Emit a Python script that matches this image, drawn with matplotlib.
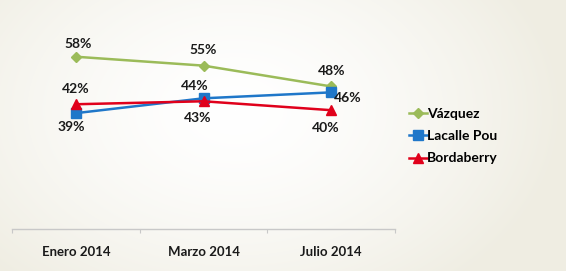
import matplotlib.pyplot as plt
import numpy as np

plt.rcParams['font.family'] = ['Lato', 'DejaVu Sans']

months = ["Enero 2014", "Marzo 2014", "Julio 2014"]
vazquez = [58, 55, 48]
lacalle = [39, 44, 46]
bordaberry = [42, 43, 40]

fig = plt.figure(figsize=(5.66, 2.71), dpi=100)

# radial cream background
bg = fig.add_axes([0, 0, 1, 1], zorder=-1)
yy, xx = np.mgrid[0:271, 0:566]
r = np.sqrt(((xx - 235) / 330.0) ** 2 + ((yy - 110) / 230.0) ** 2)
r = np.clip(r, 0, 1)
light = np.array([1.0, 1.0, 1.0])
edge = np.array([239, 237, 226]) / 255.0
img = light[None, None, :] * (1 - r[..., None] ** 1.5) + edge[None, None, :] * (r[..., None] ** 1.5)
bg.imshow(img, aspect="auto", extent=[0, 1, 0, 1])
bg.axis("off")

ax = fig.add_axes([12 / 566, 42 / 271, 383 / 566, 210 / 271])
ax.patch.set_alpha(0)

x = np.arange(len(months))
ax.plot(x, vazquez, color="#9bbb59", lw=1.8, marker="D", ms=5, label="Vázquez")
ax.plot(x, lacalle, color="#1f77c9", lw=1.8, marker="s", ms=7, label="Lacalle Pou")
ax.plot(x, bordaberry, color="#e0001b", lw=1.8, marker="^", ms=7, label="Bordaberry")

# data labels
offsets = {
    "v": [(2, 9), (0, 11), (0, 11)],
    "l": [(-3, -10), (-6, 9), (12, -4)],
    "b": [(0, 11), (-4, -12), (-4, -13)],
}
for key, vals in (("v", vazquez), ("l", lacalle), ("b", bordaberry)):
    for i, v in enumerate(vals):
        dx, dy = offsets[key][i]
        ax.annotate(f"{v}%", (i, v), xytext=(dx, dy), textcoords="offset points",
                    ha="center", va="center", fontsize=10, fontweight="bold", color="#1a1a1a")

ax.set_xlim(-0.5, 2.5)
ax.set_ylim(0, 70.7)
ax.set_yticks([])
for s in ("top", "right", "left"):
    ax.spines[s].set_visible(False)
ax.spines["bottom"].set_color("#c8c8c8")
ax.spines["bottom"].set_linewidth(1)

ax.set_xticks([-0.5, 0.5, 1.5, 2.5])
ax.set_xticklabels([])
ax.tick_params(axis="x", which="major", length=3, color="#c8c8c8")
ax.set_xticks(x, minor=True)
ax.set_xticklabels(months, minor=True, fontsize=9.5, fontweight="bold", color="#1a1a1a")
ax.tick_params(axis="x", which="minor", length=0, pad=12)

leg = fig.legend(loc="center left", bbox_to_anchor=(396 / 566, 1 - 136 / 271), frameon=False,
                 prop={"weight": "bold", "size": 10}, handlelength=1.3, handletextpad=0.05,
                 labelspacing=0.75)

fig.savefig("out.png", dpi=100)
